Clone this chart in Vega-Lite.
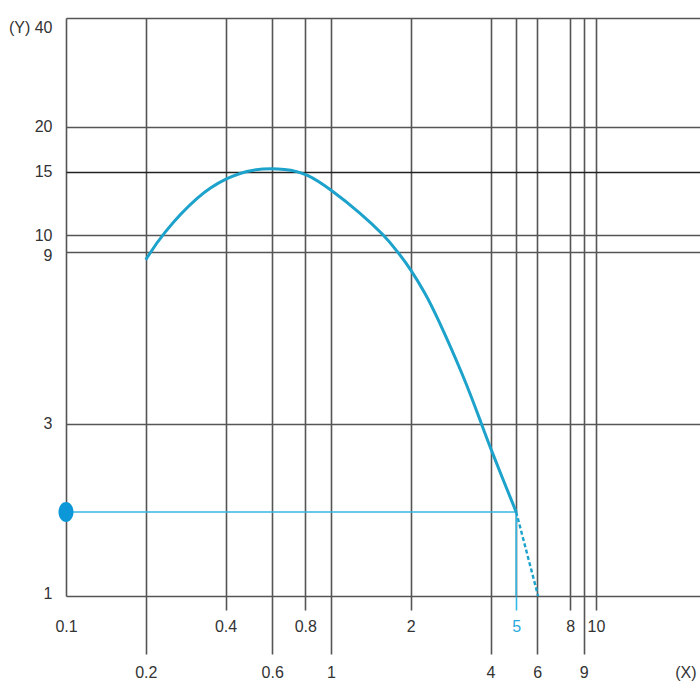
{
  "$schema": "https://vega.github.io/schema/vega-lite/v6.json",
  "width": 634,
  "height": 578,
  "autosize": "none",
  "padding": {"left": 66, "top": 18, "right": 0, "bottom": 104},
  "background": "white",
  "datasets": {
    "curve": [
      {"x": 0.2, "y": 8.55, "seg": "measured"},
      {"x": 0.23, "y": 10.06, "seg": "measured"},
      {"x": 0.318, "y": 13.0, "seg": "measured"},
      {"x": 0.402, "y": 14.4, "seg": "measured"},
      {"x": 0.504, "y": 15.3, "seg": "measured"},
      {"x": 0.682, "y": 15.3, "seg": "measured"},
      {"x": 0.812, "y": 14.8, "seg": "measured"},
      {"x": 0.991, "y": 13.45, "seg": "measured"},
      {"x": 1.31, "y": 11.43, "seg": "measured"},
      {"x": 1.585, "y": 10.0, "seg": "measured"},
      {"x": 1.775, "y": 9.05, "seg": "measured"},
      {"x": 2.0, "y": 8.05, "seg": "measured"},
      {"x": 2.28, "y": 6.86, "seg": "measured"},
      {"x": 2.49, "y": 6.04, "seg": "measured"},
      {"x": 3.18, "y": 4.04, "seg": "measured"},
      {"x": 3.68, "y": 3.03, "seg": "measured"},
      {"x": 4.02, "y": 2.54, "seg": "measured"},
      {"x": 5.0, "y": 1.71, "seg": "measured"},
      {"x": 5.0, "y": 1.71, "seg": "extrapolated"},
      {"x": 6.05, "y": 1.0, "seg": "extrapolated"}
    ],
    "reading": [
      {"x": 0.1, "x2": 5, "y": 1.71, "y2": 1}
    ],
    "readingX": [
      {"x": 5, "y": 1.71, "y2": 1}
    ]
  },
  "encoding": {
    "y": {
      "field": "y",
      "type": "quantitative",
      "scale": {"type": "log", "domain": [1, 40], "nice": false, "zero": false},
      "axis": {
        "orient": "left",
        "values": [1, 3, 9, 10, 15, 20, 40],
        "grid": true,
        "ticks": false,
        "domain": false,
        "title": null,
        "labelPadding": 14,
        "labelExpr": "datum.value === 40 ? '(Y) 40' : datum.label",
        "labelOffset": {"expr": "datum.value === 40 ? 9 : datum.value === 9 ? 4 : datum.value === 1 ? -3 : 0"},
        "gridColor": {"condition": {"test": "datum.value === 15", "value": "#222"}, "value": "#555"},
        "gridWidth": {"condition": {"test": "datum.value === 15", "value": 1.3}, "value": 1.6}
      }
    }
  },
  "layer": [
    {
      "data": {"name": "reading"},
      "mark": {"type": "rule", "stroke": "#35b8e4", "strokeWidth": 1.6},
      "encoding": {
        "x": {
          "field": "x",
          "type": "quantitative",
          "scale": {"type": "log", "domain": [0.1, 24.7], "nice": false, "zero": false},
          "axis": {
            "orient": "bottom",
            "values": [0.1, 0.4, 0.8, 2, 8, 10],
            "grid": true,
            "domain": false,
            "title": null,
            "tickSize": 14,
            "labelPadding": 8,
            "labelFlush": false,
            "labelOverlap": false,
            "tickColor": {"condition": {"test": "datum.value === 0.1", "value": "transparent"}, "value": "#555"}
          }
        },
        "x2": {"field": "x2"}
      }
    },
    {
      "data": {"name": "readingX"},
      "mark": {"type": "rule", "stroke": "#35b8e4", "strokeWidth": 1.6},
      "encoding": {
        "x": {
          "field": "x",
          "type": "quantitative",
          "scale": {"type": "log", "domain": [0.1, 24.7], "nice": false, "zero": false},
          "axis": {
            "orient": "bottom",
            "values": [5],
            "grid": true,
            "domain": false,
            "title": null,
            "tickSize": 14,
            "labelPadding": 8,
            "tickColor": "#35b8e4",
            "labelColor": "#29a9dc"
          }
        },
        "y2": {"field": "y2"}
      }
    },
    {
      "data": {"name": "curve"},
      "transform": [{"filter": "datum.seg === 'measured'"}],
      "mark": {"type": "line", "interpolate": "basis", "stroke": "#1ca2cb", "strokeWidth": 3},
      "encoding": {
        "x": {
          "field": "x",
          "type": "quantitative",
          "scale": {"type": "log", "domain": [0.1, 24.7], "nice": false, "zero": false},
          "axis": {
            "orient": "bottom",
            "values": [0.2, 0.6, 1, 4, 6, 9],
            "grid": true,
            "domain": false,
            "tickSize": 58,
            "labelPadding": 10,
            "labelFlush": false,
            "labelOverlap": false,
            "title": "(X)",
            "titleX": 630,
            "titleY": 76,
            "titleAlign": "right",
            "titleAnchor": null,
            "titleBaseline": "middle",
            "titleFontWeight": "normal",
            "titleFontSize": 16,
            "titleColor": "#333"
          }
        }
      }
    },
    {
      "data": {"name": "curve"},
      "transform": [{"filter": "datum.seg === 'extrapolated'"}],
      "mark": {"type": "line", "stroke": "#1ca2cb", "strokeWidth": 2.4, "strokeDash": [4, 2.5]},
      "encoding": {
        "x": {
          "field": "x",
          "type": "quantitative",
          "scale": {"type": "log", "domain": [0.1, 24.7], "nice": false, "zero": false},
          "axis": null
        }
      }
    },
    {
      "data": {"name": "reading"},
      "mark": {
        "type": "point",
        "filled": true,
        "opacity": 1,
        "color": "#0c97d8",
        "size": 400,
        "shape": "M-0.75,0A0.75,1 0 1,1 0.75,0A0.75,1 0 1,1 -0.75,0Z"
      },
      "encoding": {
        "x": {
          "field": "x",
          "type": "quantitative",
          "scale": {"type": "log", "domain": [0.1, 24.7], "nice": false, "zero": false},
          "axis": null
        }
      }
    }
  ],
  "resolve": {"axis": {"x": "independent"}},
  "config": {
    "view": {"stroke": null},
    "font": "Liberation Sans",
    "axis": {
      "labelFont": "Liberation Sans",
      "labelFontSize": 16,
      "labelColor": "#333",
      "gridColor": "#555",
      "gridWidth": 1.6,
      "gridOpacity": 1,
      "tickColor": "#555",
      "tickWidth": 1.6
    }
  }
}
